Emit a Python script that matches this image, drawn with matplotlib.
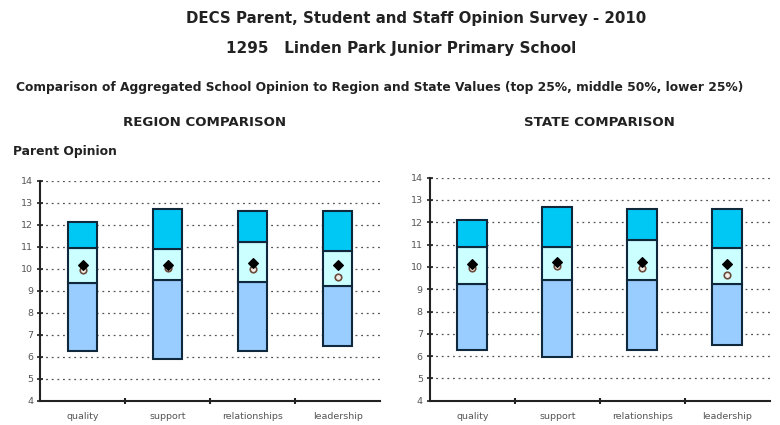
import numpy as np
import matplotlib
matplotlib.use('Agg')
import matplotlib.pyplot as plt

# ===== DATI =====
categories = ['quality', 'support', 'relationships', 'leadership']

# Region comparison: limiti dei quartili (min, 25%, 75%, max), media scuola, valore precedente
region_low = [6.27, 5.90, 6.27, 6.48]
region_q1 = [9.36, 9.49, 9.41, 9.21]
region_q3 = [10.93, 10.88, 11.20, 10.80]
region_high = [12.14, 12.71, 12.62, 12.62]
region_school = [10.17, 10.17, 10.24, 10.17]
region_prev = [9.96, 10.05, 9.97, 9.64]

# State comparison
state_low = [6.27, 5.94, 6.27, 6.50]
state_q1 = [9.22, 9.41, 9.41, 9.22]
state_q3 = [10.88, 10.88, 11.20, 10.85]
state_high = [12.10, 12.70, 12.60, 12.60]
state_school = [10.12, 10.20, 10.20, 10.15]
state_prev = [9.94, 10.06, 9.94, 9.65]

yticks = list(range(4, 15))

# ===== STILE =====
plt.rcParams['font.family'] = ['DejaVu Sans']
col_top = '#00C8F5'
col_mid = '#CCFFFF'
col_low = '#99CCFF'
edge = '#10283C'
txt = '#222222'


def draw_panel(ax, low, q1, q3, high, school, prev):
    x = np.arange(len(categories))
    w = 0.35
    low = np.array(low)
    q1 = np.array(q1)
    q3 = np.array(q3)
    high = np.array(high)
    ax.bar(x, q1 - low, w, bottom=low, color=col_low, edgecolor=edge, linewidth=1.5, zorder=3)
    ax.bar(x, q3 - q1, w, bottom=q1, color=col_mid, edgecolor=edge, linewidth=1.5, zorder=3)
    ax.bar(x, high - q3, w, bottom=q3, color=col_top, edgecolor=edge, linewidth=1.5, zorder=3)
    ax.scatter(x, prev, marker='o', s=22, facecolor='#f4eee8', edgecolor='#6b4a3a',
               linewidth=1.2, zorder=4)
    ax.scatter(x, school, marker='D', s=24, color='black', zorder=5)

    ax.set_xlim(-0.5, len(categories) - 0.5)
    ax.set_ylim(4, 14)
    ax.set_yticks(yticks)
    ax.set_yticklabels([str(v) for v in yticks], fontsize=6.8, color='#555555')
    ax.set_xticks(x)
    ax.set_xticklabels(categories, fontsize=6.8, color='#555555')
    ax.tick_params(axis='x', length=0, pad=8)
    # tacche tra le categorie
    ax.set_xticks(np.arange(len(categories) - 1) + 0.5, minor=True)
    ax.tick_params(axis='x', which='minor', direction='inout', length=4, width=1.5, color='#222222')
    ax.tick_params(axis='y', direction='inout', length=4, width=1.2, color='#222222', pad=3)
    for v in yticks[1:]:
        ax.axhline(v, color='#555555', linestyle=(0, (1.5, 3)), linewidth=0.9, zorder=1)
    ax.spines['top'].set_visible(False)
    ax.spines['right'].set_visible(False)
    ax.spines['left'].set_linewidth(1.5)
    ax.spines['bottom'].set_linewidth(1.5)
    ax.spines['left'].set_color('#222222')
    ax.spines['bottom'].set_color('#222222')


fig = plt.figure(figsize=(7.8, 4.25), dpi=100)

ax1 = fig.add_axes([0.0513, 0.057, 0.436, 0.518])
draw_panel(ax1, region_low, region_q1, region_q3, region_high, region_school, region_prev)

ax2 = fig.add_axes([0.551, 0.057, 0.436, 0.525])
draw_panel(ax2, state_low, state_q1, state_q3, state_high, state_school, state_prev)

# Titoli
fig.text(416 / 780, 1 - 18 / 425, 'DECS Parent, Student and Staff Opinion Survey - 2010',
         ha='center', va='center', fontsize=10.8, fontweight='bold', color=txt)
fig.text(401 / 780, 1 - 48 / 425, '1295   Linden Park Junior Primary School',
         ha='center', va='center', fontsize=11, fontweight='bold', color=txt)
fig.text(380 / 780, 1 - 88 / 425,
         'Comparison of Aggregated School Opinion to Region and State Values (top 25%, middle 50%, lower 25%)',
         ha='center', va='center', fontsize=8.8, fontweight='bold', color=txt)
fig.text(205 / 780, 1 - 122 / 425, 'REGION COMPARISON', ha='center', va='center',
         fontsize=9.6, fontweight='bold', color=txt)
fig.text(599 / 780, 1 - 122 / 425, 'STATE COMPARISON', ha='center', va='center',
         fontsize=9.6, fontweight='bold', color=txt)
fig.text(13 / 780, 1 - 152 / 425, 'Parent Opinion', ha='left', va='center',
         fontsize=8.9, fontweight='bold', color=txt)

fig.savefig('out.png', dpi=100)
